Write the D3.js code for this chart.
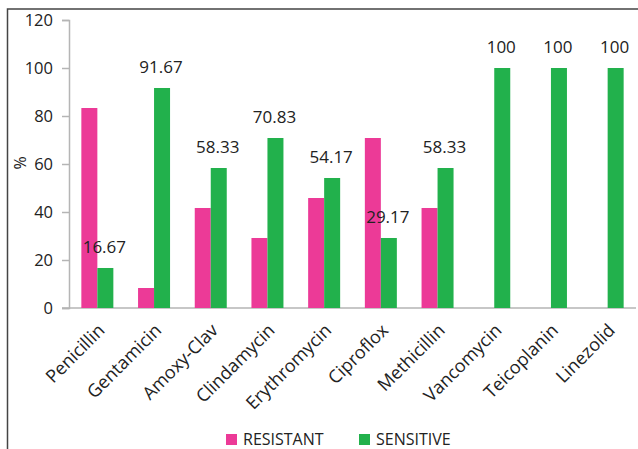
<!DOCTYPE html>
<html>
<head>
<meta charset="utf-8">
<script src="https://cdn.jsdelivr.net/npm/d3@7"></script>
<style>
  body { margin: 0; background: #fff; }
  text { font-family: "Open Sans", sans-serif; fill: #222; }
</style>
</head>
<body>
<div class="chart"></div>
<script>
// Data
const drugs = ['Penicillin', 'Gentamicin', 'Amoxy-Clav', 'Clindamycin', 'Erythromycin',
               'Ciproflox', 'Methicillin', 'Vancomycin', 'Teicoplanin', 'Linezolid'];
const resistant = [83.33, 8.33, 41.67, 29.17, 45.83, 70.83, 41.67, 0, 0, 0];
const sensitive = [16.67, 91.67, 58.33, 70.83, 54.17, 29.17, 58.33, 100, 100, 100];
const yTicks = [0, 20, 40, 60, 80, 100, 120];
const seriesNames = ['RESISTANT', 'SENSITIVE'];
const colors = ['#ec3a97', '#22b14c'];

const W = 638, H = 449;
const plot = { left: 69, right: 636, top: 20, bottom: 308 };
const barW = 16;

const svg = d3.select('.chart').append('svg')
    .attr('width', W)
    .attr('height', H);

// frame (only top and left edges show)
svg.append('path')
    .attr('d', `M7.5,${H} V9 H${W}`)
    .attr('fill', 'none')
    .attr('stroke', '#444')
    .attr('stroke-width', 1.5);

const x = d3.scaleBand().domain(drugs).range([plot.left, plot.right]);
const y = d3.scaleLinear().domain([0, 120]).range([plot.bottom, plot.top]);

// y axis
const yAxis = svg.append('g')
    .attr('transform', `translate(${plot.left},0)`)
    .call(d3.axisLeft(y).tickValues(yTicks).tickSize(7).tickPadding(9));
yAxis.select('.domain').attr('stroke', '#b5b5b5').attr('stroke-width', 1.5);
yAxis.selectAll('.tick line').attr('stroke', '#b5b5b5').attr('stroke-width', 1.5);
yAxis.selectAll('.tick text')
    .style('font-family', '"Open Sans", sans-serif')
    .style('font-size', '16.5px')
    .attr('fill', '#222');

// x axis line
svg.append('line')
    .attr('x1', plot.left - 7).attr('x2', plot.right)
    .attr('y1', y(0)).attr('y2', y(0))
    .attr('stroke', '#b5b5b5')
    .attr('stroke-width', 1.5);

// bars
const groups = svg.selectAll('.grp')
    .data(drugs)
    .enter().append('g')
    .attr('class', 'grp');

groups.append('rect')
    .attr('x', d => x(d) + x.bandwidth() / 2 - barW)
    .attr('y', (d, i) => y(resistant[i]))
    .attr('width', barW)
    .attr('height', (d, i) => y(0) - y(resistant[i]))
    .attr('fill', colors[0]);

groups.append('rect')
    .attr('x', d => x(d) + x.bandwidth() / 2)
    .attr('y', (d, i) => y(sensitive[i]))
    .attr('width', barW)
    .attr('height', (d, i) => y(0) - y(sensitive[i]))
    .attr('fill', colors[1]);

// value labels on sensitive bars
groups.append('text')
    .attr('x', d => x(d) + x.bandwidth() / 2 + barW / 2 - 1)
    .attr('y', (d, i) => y(sensitive[i]) - 15)
    .attr('text-anchor', 'middle')
    .style('font-size', '17px')
    .text((d, i) => sensitive[i]);

// category labels
groups.append('text')
    .attr('transform', d => `translate(${x(d) + x.bandwidth() / 2 + 4},${plot.bottom + 19}) rotate(-45)`)
    .attr('text-anchor', 'end')
    .attr('dy', '0.35em')
    .style('font-size', '18px')
    .text(d => d);

// y title
svg.append('text')
    .attr('transform', 'translate(26,163) rotate(-90)')
    .attr('text-anchor', 'middle')
    .style('font-size', '16px')
    .text('%');

// legend
const legendX = [226, 359];
const legend = svg.selectAll('.leg')
    .data(seriesNames)
    .enter().append('g')
    .attr('transform', (d, i) => `translate(${legendX[i]},434)`);
legend.append('rect')
    .attr('width', 11).attr('height', 11)
    .attr('fill', (d, i) => colors[i]);
legend.append('text')
    .attr('x', 17).attr('y', 11)
    .style('font-size', '16px')
    .text(d => d);
</script>
</body>
</html>
